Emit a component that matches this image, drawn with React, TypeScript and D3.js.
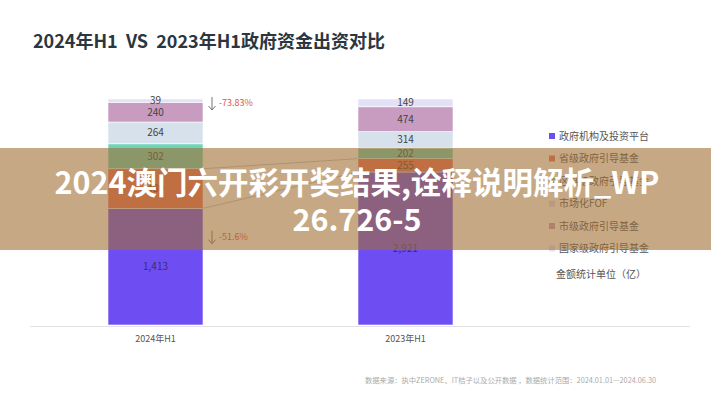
import React, { useEffect, useRef } from "react";
import * as d3 from "d3";

// chart data
const periods = ["2024年H1", "2023年H1"];
const seriesNames = [
  "政府机构及投资平台",
  "省级政府引导基金",
  "区县级政府引导基金",
  "市场化FOF",
  "市级政府引导基金",
  "国家级政府引导基金",
];
const values2024 = [1413, 480, 302, 264, 240, 39];
const values2023 = [2921, 255, 202, 314, 474, 149];
const colors = ["#6e4df2", "#f0705a", "#6dd4b9", "#d6e1ec", "#c89bc1", "#e4e1f7"];
const changeLabels = ["-73.83%", "-51.6%"];

const W = 711;
const H = 400;
const plotTop = 99;
const plotBottom = 325;
const font = "'Noto Sans CJK SC', 'Noto Sans', sans-serif";

const App: React.FC = () => {
  const svgRef = useRef<SVGSVGElement>(null);

  useEffect(() => {
    if (!svgRef.current) return;
    const svg = d3.select(svgRef.current);
    svg.selectAll("*").remove();

    svg.append("rect").attr("width", W).attr("height", H).attr("fill", "#fff");

    // title
    svg
      .append("text")
      .attr("x", 33)
      .attr("y", 48)
      .attr("font-family", font)
      .attr("font-weight", 700)
      .attr("font-size", 18)
      .attr("fill", "#2b3640")
      .style("white-space", "pre")
      .text("2024年H1  VS  2023年H1政府资金出资对比");

    const x = d3
      .scaleBand()
      .domain(periods)
      .range([30.5, 530.5])
      .paddingInner(0.62)
      .paddingOuter(0.31);

    const y = d3.scaleLinear().domain([0, 1]).range([plotBottom, plotTop]);

    const rows = periods.map((p, i) => {
      const vals = i === 0 ? values2024 : values2023;
      const total = d3.sum(vals);
      const row: any = { period: p };
      seriesNames.forEach((s, j) => (row[s] = vals[j] / total));
      return row;
    });
    const raw = [values2024, values2023];

    const series = d3.stack().keys(seriesNames)(rows);

    // baseline
    svg
      .append("line")
      .attr("x1", 30)
      .attr("x2", 690)
      .attr("y1", plotBottom + 1.5)
      .attr("y2", plotBottom + 1.5)
      .attr("stroke", "#e2e2e2");

    // connector lines between bars
    [0, 1].forEach((k) => {
      const s = series[k];
      svg
        .append("line")
        .attr("x1", (x(periods[0]) || 0) + x.bandwidth())
        .attr("y1", y(s[0][1]))
        .attr("x2", x(periods[1]) || 0)
        .attr("y2", y(s[1][1]))
        .attr("stroke", "#b8b8b8")
        .attr("stroke-width", 0.8);
    });

    const layer = svg
      .append("g")
      .selectAll("g")
      .data(series)
      .join("g")
      .attr("fill", (d, i) => colors[i]);

    layer
      .selectAll("rect")
      .data((d) => d)
      .join("rect")
      .attr("x", (d: any) => x(d.data.period) || 0)
      .attr("y", (d) => y(d[1]))
      .attr("width", x.bandwidth())
      .attr("height", (d) => y(d[0]) - y(d[1]))
      .attr("stroke", "#fff")
      .attr("stroke-width", 0.6);

    // segment labels
    series.forEach((s, j) => {
      s.forEach((d, i) => {
        svg
          .append("text")
          .attr("x", (x(periods[i]) || 0) + x.bandwidth() / 2)
          .attr("y", (y(d[0]) + y(d[1])) / 2)
          .attr("dy", "0.35em")
          .attr("text-anchor", "middle")
          .attr("font-family", font)
          .attr("font-size", 10)
          .attr("fill", j === 0 ? "#3a2f6a" : "#444")
          .text(d3.format(",")(raw[i][j]));
      });
    });

    // x labels
    periods.forEach((p) => {
      svg
        .append("text")
        .attr("x", (x(p) || 0) + x.bandwidth() / 2)
        .attr("y", 342)
        .attr("text-anchor", "middle")
        .attr("font-family", font)
        .attr("font-size", 9)
        .attr("fill", "#555")
        .text(p);
    });

    // change annotations
    const annX = (x(periods[0]) || 0) + x.bandwidth() + 9;
    const annY = [
      y(series[5][0][1]) + 4,
      (y(series[0][0][0]) + y(series[0][0][1])) / 2 - 30,
    ];
    annY.forEach((ay, k) => {
      const g = svg.append("g");
      g.append("line")
        .attr("x1", annX)
        .attr("x2", annX)
        .attr("y1", ay - 6)
        .attr("y2", ay + 7)
        .attr("stroke", "#666")
        .attr("stroke-width", 0.9);
      g.append("path")
        .attr("d", `M${annX - 3.5},${ay + 3} L${annX},${ay + 7} L${annX + 3.5},${ay + 3}`)
        .attr("fill", "none")
        .attr("stroke", "#666")
        .attr("stroke-width", 0.9);
      g.append("text")
        .attr("x", annX + 7)
        .attr("y", ay)
        .attr("dy", "0.35em")
        .attr("font-family", font)
        .attr("font-size", 9)
        .attr("fill", "#e0524d")
        .text(changeLabels[k]);
    });

    // legend
    const legend = svg.append("g").attr("transform", "translate(549,136)");
    seriesNames.forEach((s, i) => {
      const g = legend.append("g").attr("transform", `translate(0,${i * 22.5})`);
      g.append("rect").attr("x", 0).attr("y", -3).attr("width", 6).attr("height", 6).attr("fill", colors[i]);
      g.append("text")
        .attr("x", 10)
        .attr("y", 0)
        .attr("dy", "0.35em")
        .attr("font-family", font)
        .attr("font-size", 10)
        .attr("fill", "#555")
        .text(s);
    });
    svg
      .append("text")
      .attr("x", 556)
      .attr("y", 274)
      .attr("dy", "0.35em")
      .attr("font-family", font)
      .attr("font-size", 10)
      .attr("fill", "#555")
      .text("金额统计单位（亿）");

    // source
    svg
      .append("text")
      .attr("x", 365)
      .attr("y", 383)
      .attr("font-family", font)
      .attr("font-size", 7.3)
      .attr("fill", "#aaa")
      .text("数据来源：执中ZERONE、IT桔子以及公开数据 ，数据统计范围：2024.01.01—2024.06.30");

    // overlay band
    svg
      .append("rect")
      .attr("x", 0)
      .attr("y", 148)
      .attr("width", W)
      .attr("height", 102)
      .attr("fill", "rgba(160,110,50,0.6)");

    const overlayLines = ["2024澳门六开彩开奖结果,诠释说明解析_WP", "26.726-5"];
    overlayLines.forEach((t, i) => {
      svg
        .append("text")
        .attr("x", 357)
        .attr("y", 194 + i * 37)
        .attr("text-anchor", "middle")
        .attr("font-family", font)
        .attr("font-weight", 700)
        .attr("font-size", 30.5)
        .attr("fill", "#fff")
        .text(t);
    });
  }, []);

  return (
    <svg
      ref={svgRef}
      width={W}
      height={H}
      style={{ position: "absolute", left: 0, top: 0, display: "block" }}
    />
  );
};

export default App;
